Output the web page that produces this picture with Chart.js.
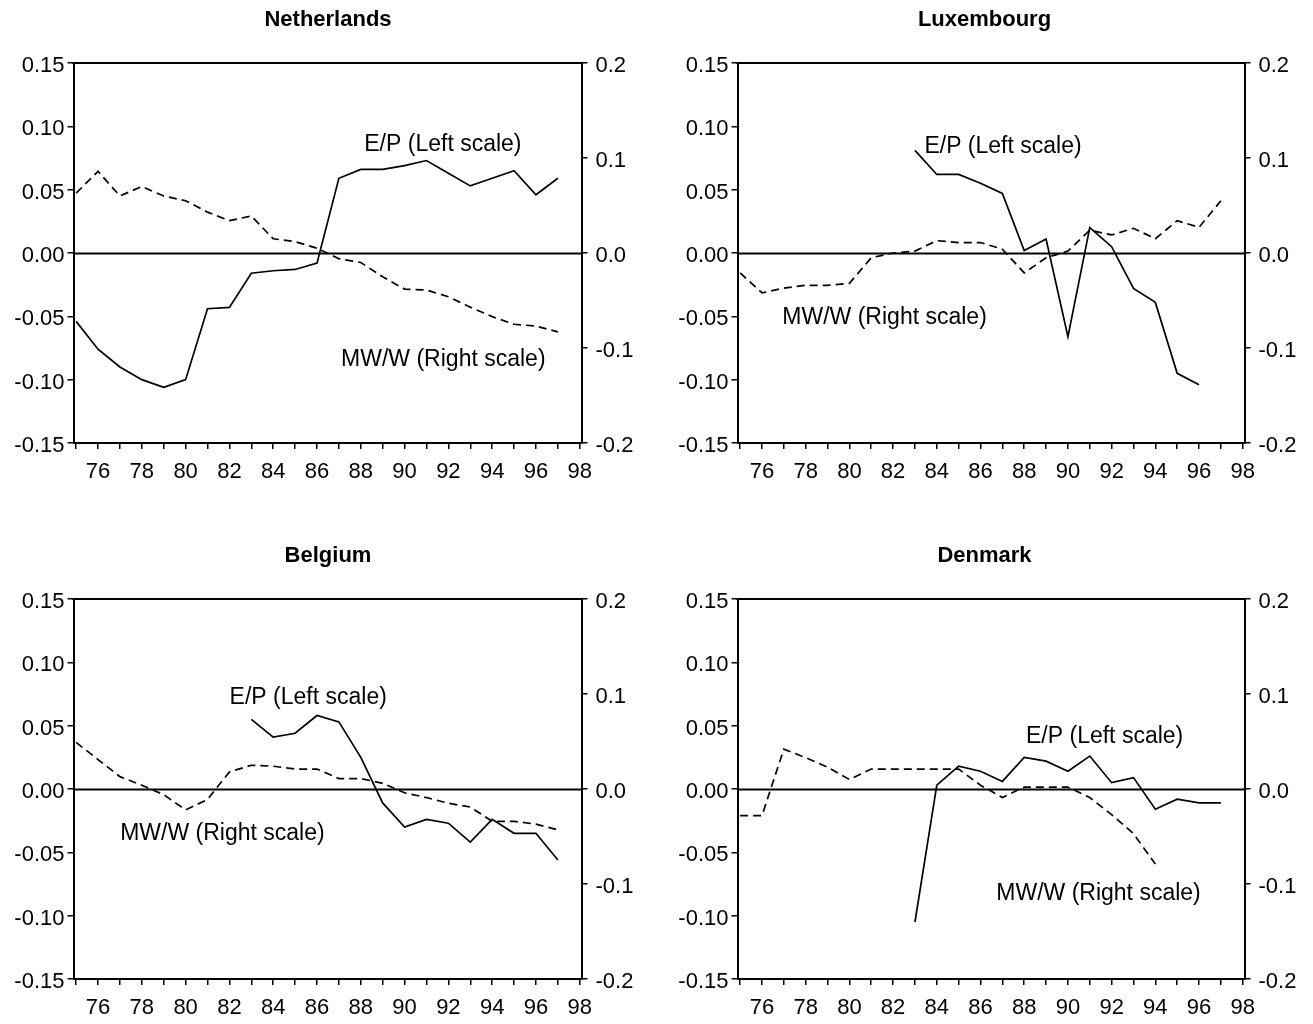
<!DOCTYPE html>
<html><head><meta charset="utf-8">
<script src="https://cdn.jsdelivr.net/npm/chart.js@4/dist/chart.umd.min.js"></script>
<style>
html,body{margin:0;padding:0;background:#fff;}
body{width:1313px;height:1024px;position:relative;overflow:hidden;}
canvas{position:absolute;}
</style></head>
<body>
<canvas id="c0" width="656" height="488" style="left:0;top:0;width:656px;height:488px"></canvas>
<canvas id="c1" width="657" height="488" style="left:656px;top:0;width:657px;height:488px"></canvas>
<canvas id="c2" width="656" height="488" style="left:0;top:536px;width:656px;height:488px"></canvas>
<canvas id="c3" width="657" height="488" style="left:656px;top:536px;width:657px;height:488px"></canvas>
<script>
// ---- data ----
const years = [75,76,77,78,79,80,81,82,83,84,85,86,87,88,89,90,91,92,93,94,95,96,97];
const xTickLabels = ['76','78','80','82','84','86','88','90','92','94','96','98'];
const panelTitles = ['Netherlands','Luxembourg','Belgium','Denmark'];
const epLabel = 'E/P (Left scale)';
const mwLabel = 'MW/W (Right scale)';

// E/P (left scale), MW/W (right scale)
const nlEP = [-0.054,-0.076,-0.090,-0.100,-0.106,-0.100,-0.044,-0.043,-0.016,-0.014,-0.013,-0.008,0.059,0.066,0.066,0.069,0.073,0.063,0.053,0.059,0.065,0.046,0.059];
const nlMW = [0.063,0.086,0.060,0.070,0.060,0.055,0.043,0.034,0.039,0.015,0.012,0.005,-0.006,-0.010,-0.025,-0.038,-0.039,-0.046,-0.057,-0.067,-0.075,-0.077,-0.083];

const luEP = [null,null,null,null,null,null,null,null,0.081,0.062,0.062,0.055,0.047,0.002,0.011,-0.066,0.020,0.005,-0.028,-0.039,-0.095,-0.104,null];
const luMW = [-0.021,-0.042,-0.037,-0.034,-0.034,-0.032,-0.005,0.000,0.002,0.013,0.011,0.011,0.004,-0.021,-0.005,0.002,0.024,0.019,0.026,0.015,0.034,0.027,0.055];

const beEP = [null,null,null,null,null,null,null,null,0.055,0.041,0.044,0.058,0.053,0.025,-0.011,-0.030,-0.024,-0.027,-0.042,-0.024,-0.035,-0.035,-0.056];
const beMW = [0.049,0.031,0.013,0.004,-0.006,-0.022,-0.011,0.018,0.025,0.024,0.021,0.021,0.011,0.011,0.006,-0.004,-0.009,-0.015,-0.019,-0.034,-0.034,-0.037,-0.043];

const dkEP = [null,null,null,null,null,null,null,null,-0.105,0.003,0.018,0.014,0.006,0.025,0.022,0.014,0.026,0.005,0.009,-0.016,-0.008,-0.011,-0.011];
const dkMW = [-0.028,-0.028,0.042,0.033,0.023,0.010,0.021,0.021,0.021,0.021,0.021,0.004,-0.009,0.002,0.002,0.002,-0.009,-0.027,-0.047,-0.079,null,null,null];

// ---- layout / style ----
const FONT = '"Liberation Sans", Arial, Helvetica, sans-serif';
const H = 488, PLOT_TOP = 63, PLOT_BOTTOM = 443;
const TITLE_SIZE = 22, TICK_SIZE = 22, NOTE_SIZE = 23;
const panels = [
  {id:'c0', W:656, left:73.5, right:581.5, ep:nlEP, mw:nlMW, title:panelTitles[0],
   notes:[{t:epLabel,x:91.75,y:0.0858},{t:mwLabel,x:91.77,y:-0.0842}]},
  {id:'c1', W:657, left:81.5, right:588.5, ep:luEP, mw:luMW, title:panelTitles[1],
   notes:[{t:epLabel,x:87.03,y:0.0837},{t:mwLabel,x:81.61,y:-0.0513}]},
  {id:'c2', W:656, left:73.5, right:581.5, ep:beEP, mw:beMW, title:panelTitles[2],
   notes:[{t:epLabel,x:85.6,y:0.0718},{t:mwLabel,x:81.68,y:-0.0355}]},
  {id:'c3', W:657, left:81.5, right:588.5, ep:dkEP, mw:dkMW, title:panelTitles[3],
   notes:[{t:epLabel,x:91.68,y:0.0416},{t:mwLabel,x:91.4,y:-0.0829}]}
];

const framePlugin = {
  id: 'frame',
  beforeDatasetsDraw(chart) {
    const {ctx, chartArea:a, scales} = chart;
    const y0 = Math.round(scales.y.getPixelForValue(0)) + 0.5;
    ctx.save();
    ctx.strokeStyle = '#000'; ctx.lineWidth = 2;
    ctx.beginPath(); ctx.moveTo(a.left, y0); ctx.lineTo(a.right, y0); ctx.stroke();
    ctx.beginPath(); ctx.moveTo(a.left - 1, a.top); ctx.lineTo(a.right + 1, a.top); ctx.stroke();
    ctx.restore();
  },
  afterDatasetsDraw(chart, args, opts) {
    const {ctx, scales} = chart;
    ctx.save();
    ctx.fillStyle = '#000';
    ctx.font = NOTE_SIZE + 'px ' + FONT;
    ctx.textAlign = 'center'; ctx.textBaseline = 'middle';
    (opts.notes || []).forEach(n => {
      ctx.fillText(n.t, scales.x.getPixelForValue(n.x), scales.y.getPixelForValue(n.y));
    });
    ctx.restore();
  }
};

function toPoints(vals) {
  return years.map((yr, i) => ({x: yr, y: vals[i]})).filter(p => p.y !== null);
}

panels.forEach(p => {
  const tickFont = {family: FONT, size: TICK_SIZE};
  const titleLH = TITLE_SIZE * 1.2;
  new Chart(document.getElementById(p.id), {
    type: 'line',
    data: {
      datasets: [
        {label: epLabel, data: toPoints(p.ep), yAxisID: 'y', borderColor: '#000', borderWidth: 1.7,
         pointRadius: 0, tension: 0, fill: false},
        {label: mwLabel, data: toPoints(p.mw), yAxisID: 'y2', borderColor: '#000', borderWidth: 1.7,
         borderDash: [8, 5], pointRadius: 0, tension: 0, fill: false}
      ]
    },
    plugins: [framePlugin],
    options: {
      responsive: false, animation: false, devicePixelRatio: 1,
      layout: {padding: 0},
      plugins: {
        legend: {display: false}, tooltip: {enabled: false},
        title: {display: true, text: p.title, color: '#000',
                font: {family: FONT, size: TITLE_SIZE, weight: 'bold', lineHeight: 1.2},
                padding: {top: 20 - titleLH / 2, bottom: PLOT_TOP - (20 - titleLH / 2) - titleLH}},
        frame: {notes: p.notes}
      },
      scales: {
        x: {
          type: 'linear', position: 'bottom', min: 74.88, max: 98.08,
          afterFit: s => { s.height = H - PLOT_BOTTOM; },
          border: {display: true, color: '#000', width: 2},
          grid: {display: true, drawOnChartArea: false, drawTicks: true, tickLength: 6, color: '#000', lineWidth: 1.5},
          ticks: {stepSize: 1, includeBounds: false, autoSkip: false, maxRotation: 0, minRotation: 0,
                  color: '#000', font: tickFont, padding: 10,
                  callback: v => {
                    const r = Math.round(v);
                    return (Math.abs(v - r) < 1e-6 && xTickLabels.includes(String(r))) ? String(r) : '';
                  }}
        },
        y: {
          type: 'linear', position: 'left', min: -0.15, max: 0.15,
          afterFit: s => { s.width = p.left; },
          border: {display: true, color: '#000', width: 2},
          grid: {display: true, drawOnChartArea: false, drawTicks: true, tickLength: 6, color: '#000', lineWidth: 1.5},
          ticks: {stepSize: 0.05, color: '#000', font: tickFont, padding: 3, labelOffset: 3,
                  callback: v => (Math.abs(v) < 1e-9 ? 0 : v).toFixed(2)}
        },
        y2: {
          type: 'linear', position: 'right', min: -0.2, max: 0.2,
          afterFit: s => { s.width = p.W - p.right; },
          border: {display: true, color: '#000', width: 2},
          grid: {display: true, drawOnChartArea: false, drawTicks: true, tickLength: 6, color: '#000', lineWidth: 1.5},
          ticks: {stepSize: 0.1, color: '#000', font: tickFont, padding: 8, labelOffset: 3,
                  callback: v => (Math.abs(v) < 1e-9 ? 0 : v).toFixed(1)}
        }
      }
    }
  });
});
</script>
</body></html>
